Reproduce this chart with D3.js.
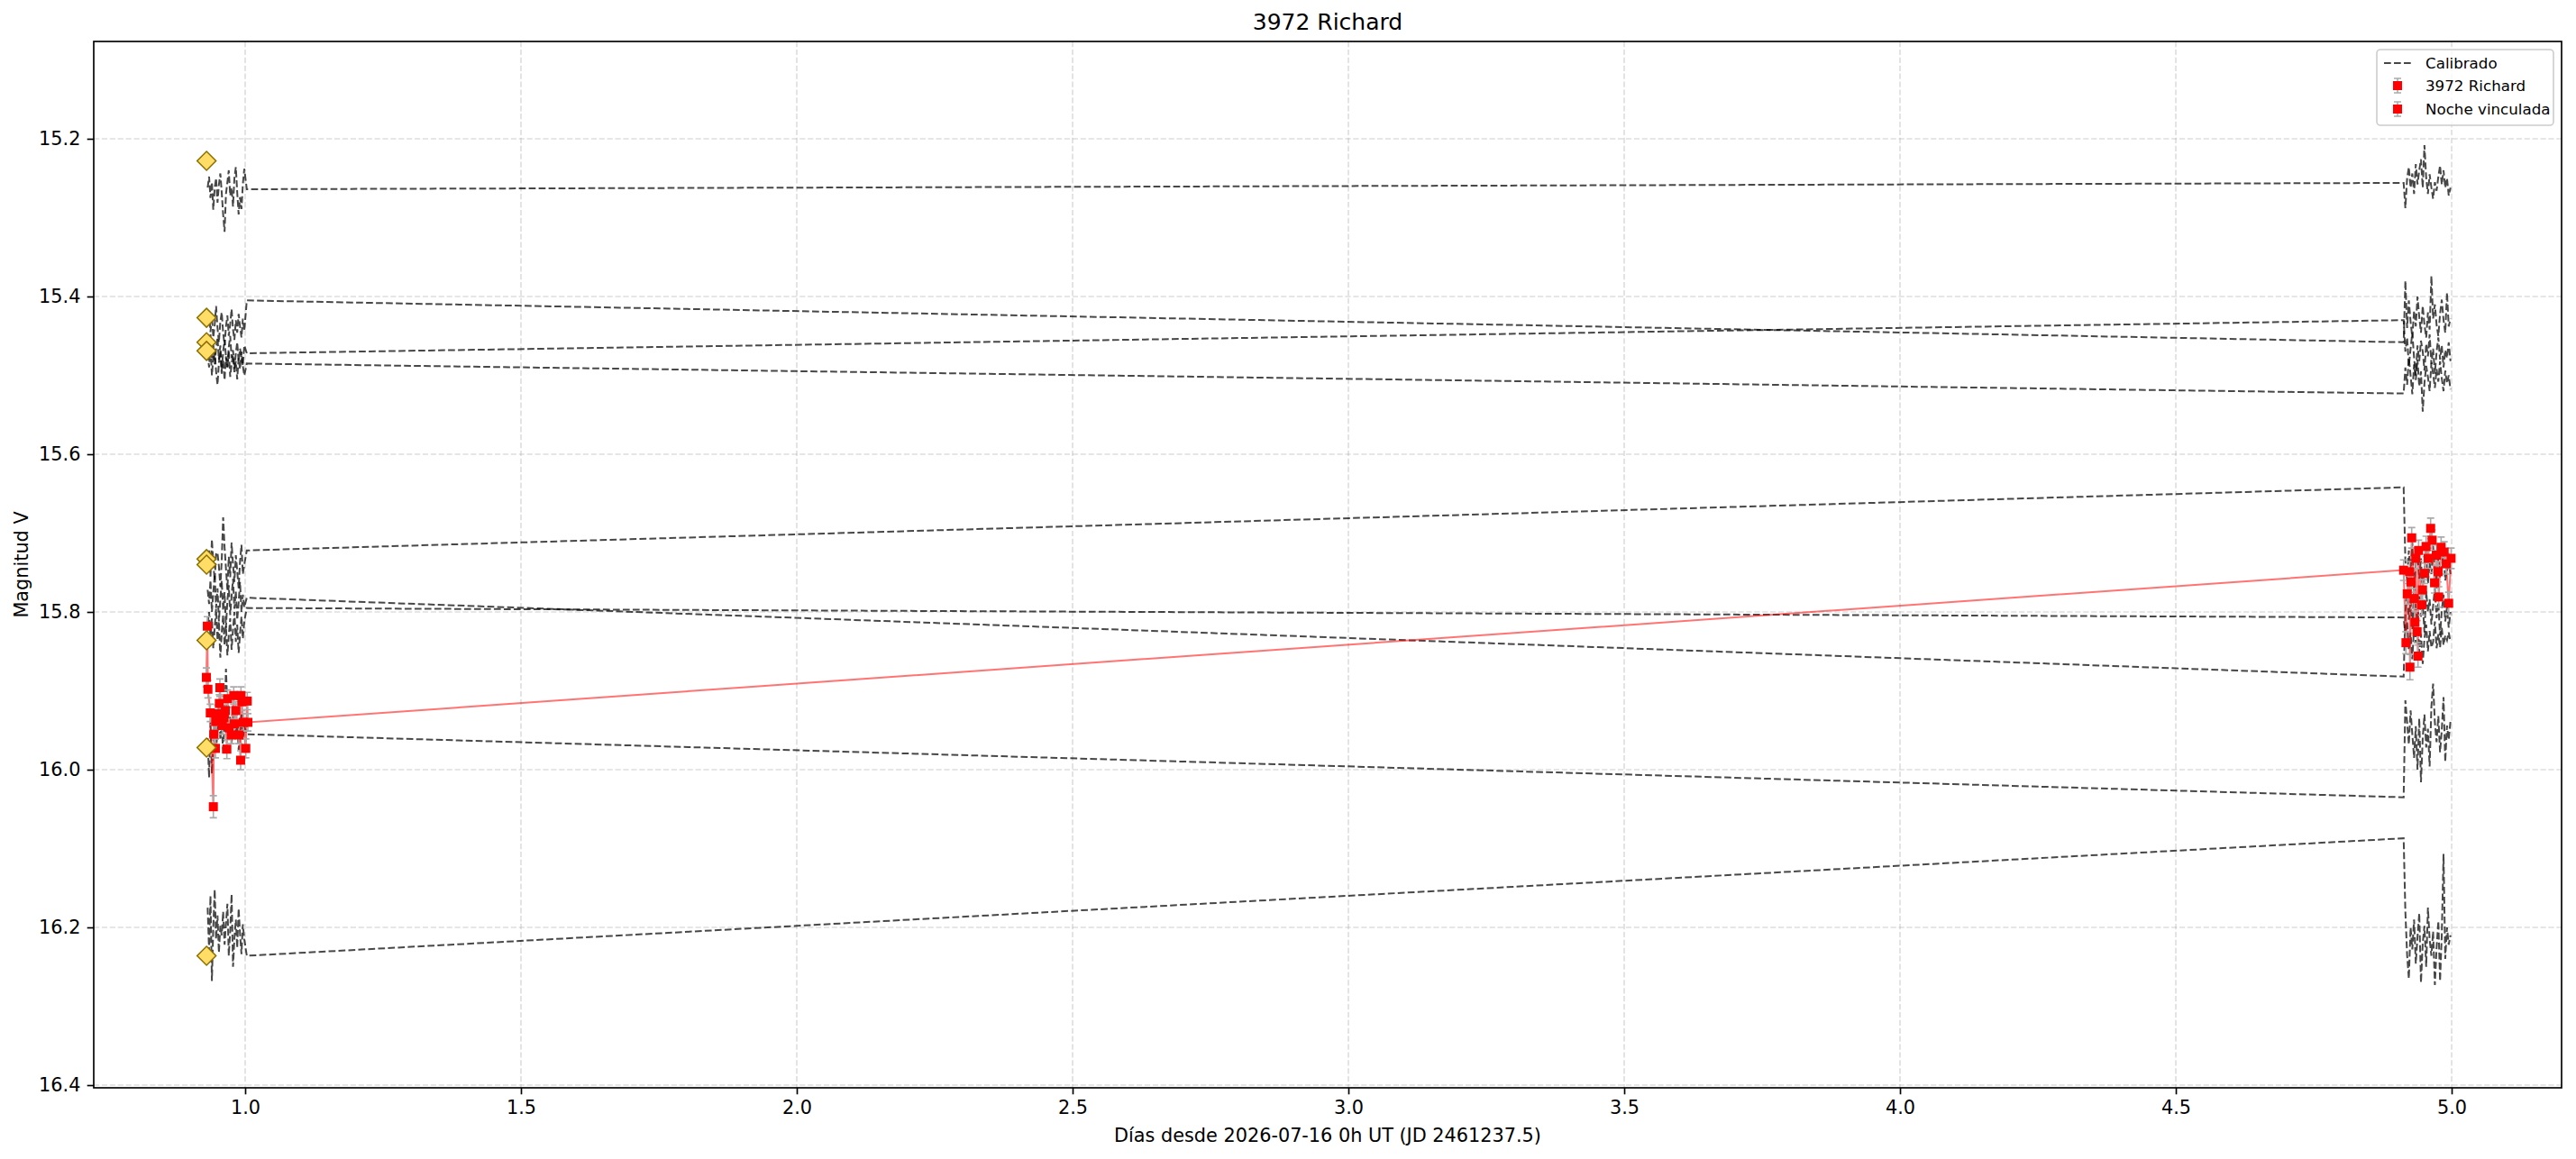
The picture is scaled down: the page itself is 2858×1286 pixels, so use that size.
<!DOCTYPE html>
<html>
<head>
<meta charset="utf-8">
<script src="https://cdn.jsdelivr.net/npm/d3@7"></script>
<style>
  html, body { margin: 0; padding: 0; background: #fff; }
  svg { display: block; font-family: "DejaVu Sans", sans-serif; }
</style>
</head>
<body>
<div id="chart"></div>
<script>
// --- data ---------------------------------------------------------------
const xTicks = [1.0, 1.5, 2.0, 2.5, 3.0, 3.5, 4.0, 4.5, 5.0];
const yTicks = [15.2, 15.4, 15.6, 15.8, 16.0, 16.2, 16.4];

// observation times of the comparison stars (days)
const timesNight1 = [0.9320, 0.9346, 0.9371, 0.9397, 0.9422, 0.9448, 0.9473, 0.9499, 0.9524, 0.9550,
    0.9575, 0.9601, 0.9627, 0.9652, 0.9678, 0.9703, 0.9729, 0.9754, 0.9780, 0.9805,
    0.9831, 0.9856, 0.9882, 0.9907, 0.9933, 0.9958, 0.9984, 1.0030];
const timesNight2 = [4.9130, 4.9161, 4.9193, 4.9224, 4.9256, 4.9287, 4.9319, 4.9350, 4.9381, 4.9413,
    4.9444, 4.9476, 4.9507, 4.9539, 4.9570, 4.9601, 4.9633, 4.9664, 4.9696, 4.9727,
    4.9759, 4.9790, 4.9821, 4.9853, 4.9884, 4.9916, 4.9947, 4.9979];

// calibrated comparison stars, night 1
const compNight1 = [
    [15.262, 15.248, 15.275, 15.255, 15.290, 15.262, 15.250, 15.281, 15.258, 15.244, 15.268, 15.296, 15.318, 15.270, 15.255, 15.240, 15.272, 15.262, 15.286, 15.250, 15.236, 15.268, 15.296, 15.274, 15.289, 15.258, 15.238, 15.264],
    [15.430, 15.418, 15.445, 15.425, 15.452, 15.436, 15.412, 15.440, 15.458, 15.432, 15.420, 15.446, 15.462, 15.438, 15.424, 15.450, 15.435, 15.416, 15.442, 15.455, 15.430, 15.446, 15.422, 15.438, 15.452, 15.428, 15.444, 15.405],
    [15.452, 15.470, 15.448, 15.478, 15.460, 15.486, 15.466, 15.452, 15.480, 15.462, 15.494, 15.470, 15.455, 15.476, 15.490, 15.464, 15.450, 15.478, 15.468, 15.492, 15.472, 15.458, 15.482, 15.466, 15.476, 15.488, 15.462, 15.472],
    [15.472, 15.490, 15.462, 15.500, 15.478, 15.468, 15.495, 15.512, 15.484, 15.470, 15.498, 15.480, 15.506, 15.476, 15.490, 15.470, 15.502, 15.486, 15.474, 15.496, 15.482, 15.505, 15.478, 15.492, 15.470, 15.488, 15.500, 15.485],
    [15.740, 15.722, 15.755, 15.708, 15.738, 15.760, 15.725, 15.725, 15.742, 15.768, 15.735, 15.680, 15.718, 15.745, 15.772, 15.730, 15.756, 15.712, 15.740, 15.762, 15.728, 15.748, 15.770, 15.736, 15.715, 15.752, 15.740, 15.722],
    [15.772, 15.790, 15.760, 15.800, 15.776, 15.752, 15.795, 15.770, 15.812, 15.784, 15.760, 15.798, 15.775, 15.820, 15.786, 15.766, 15.804, 15.780, 15.758, 15.796, 15.774, 15.810, 15.788, 15.762, 15.800, 15.778, 15.794, 15.782],
    [15.815, 15.800, 15.832, 15.808, 15.846, 15.820, 15.796, 15.836, 15.812, 15.858, 15.826, 15.804, 15.842, 15.818, 15.855, 15.830, 15.808, 15.848, 15.822, 15.800, 15.838, 15.816, 15.852, 15.828, 15.806, 15.834, 15.812, 15.795],
    [15.960, 16.010, 15.940, 16.005, 15.965, 15.930, 15.975, 15.950, 15.915, 15.962, 15.940, 15.980, 15.935, 15.872, 15.920, 15.955, 15.932, 15.968, 15.945, 15.925, 15.958, 15.938, 15.975, 15.950, 15.928, 15.962, 15.945, 15.955],
    [16.175, 16.230, 16.160, 16.268, 16.200, 16.152, 16.215, 16.185, 16.232, 16.198, 16.210, 16.180, 16.222, 16.195, 16.170, 16.236, 16.205, 16.158, 16.250, 16.214, 16.190, 16.226, 16.176, 16.208, 16.234, 16.196, 16.215, 16.236]
];

// calibrated comparison stars, night 2
const compNight2 = [
    [15.256, 15.288, 15.250, 15.236, 15.262, 15.244, 15.270, 15.232, 15.258, 15.240, 15.226, 15.262, 15.208, 15.250, 15.270, 15.245, 15.262, 15.276, 15.255, 15.266, 15.248, 15.234, 15.258, 15.240, 15.262, 15.250, 15.272, 15.262],
    [15.458, 15.380, 15.440, 15.405, 15.432, 15.452, 15.418, 15.438, 15.400, 15.426, 15.446, 15.412, 15.436, 15.452, 15.420, 15.442, 15.374, 15.428, 15.410, 15.436, 15.450, 15.422, 15.404, 15.430, 15.446, 15.395, 15.438, 15.428],
    [15.430, 15.470, 15.452, 15.488, 15.466, 15.446, 15.478, 15.500, 15.462, 15.482, 15.456, 15.470, 15.494, 15.460, 15.476, 15.448, 15.486, 15.466, 15.498, 15.470, 15.452, 15.480, 15.462, 15.490, 15.468, 15.478, 15.458, 15.482],
    [15.523, 15.490, 15.512, 15.478, 15.500, 15.524, 15.486, 15.506, 15.480, 15.514, 15.495, 15.546, 15.510, 15.488, 15.502, 15.520, 15.484, 15.498, 15.516, 15.492, 15.508, 15.482, 15.504, 15.520, 15.494, 15.510, 15.500, 15.518],
    [15.642, 15.735, 15.760, 15.722, 15.748, 15.712, 15.770, 15.740, 15.726, 15.758, 15.732, 15.778, 15.746, 15.720, 15.764, 15.738, 15.752, 15.716, 15.744, 15.770, 15.730, 15.756, 15.742, 15.724, 15.760, 15.748, 15.734, 15.752],
    [15.882, 15.800, 15.772, 15.810, 15.786, 15.822, 15.768, 15.796, 15.818, 15.780, 15.806, 15.790, 15.826, 15.774, 15.800, 15.784, 15.816, 15.792, 15.770, 15.808, 15.788, 15.830, 15.798, 15.778, 15.812, 15.794, 15.820, 15.800],
    [15.807, 15.830, 15.812, 15.848, 15.826, 15.860, 15.818, 15.840, 15.808, 15.852, 15.828, 15.866, 15.834, 15.816, 15.850, 15.824, 15.845, 15.838, 15.812, 15.846, 15.828, 15.845, 15.820, 15.842, 15.830, 15.836, 15.826, 15.838],
    [16.035, 15.912, 15.940, 15.968, 15.925, 15.955, 15.985, 15.945, 16.000, 15.935, 16.016, 15.960, 15.930, 15.972, 15.948, 15.996, 15.920, 15.891, 15.940, 15.965, 15.932, 15.978, 15.950, 15.908, 15.990, 15.944, 15.962, 15.938],
    [16.087, 16.180, 16.235, 16.265, 16.200, 16.228, 16.190, 16.246, 16.212, 16.182, 16.270, 16.220, 16.198, 16.250, 16.175, 16.215, 16.236, 16.205, 16.273, 16.226, 16.192, 16.268, 16.210, 16.107, 16.240, 16.200, 16.222, 16.210]
];

// reference (catalogue) magnitudes of the comparison stars
const refTime = 0.930;
const refMags = [15.228, 15.427, 15.458, 15.469, 15.733, 15.740, 15.836, 15.972, 16.236];

// 3972 Richard, night 1
const targetTimes1 = [0.9297, 0.9314, 0.9325, 0.9368, 0.9423, 0.9434, 0.9461, 0.9466, 0.9505, 0.9532,
    0.9542, 0.9586, 0.9613, 0.9641, 0.9668, 0.9680, 0.9706, 0.9749, 0.9793, 0.9804,
    0.9831, 0.9886, 0.9918, 0.9924, 0.9940, 0.9967, 1.0011, 1.0038, 1.0049];
const targetMags1 = [15.883, 15.818, 15.898, 15.928, 16.047, 15.955, 15.973, 15.939, 15.929, 15.916,
    15.896, 15.944, 15.934, 15.925, 15.974, 15.910, 15.947, 15.956, 15.906, 15.942,
    15.925, 15.956, 15.988, 15.906, 15.914, 15.940, 15.973, 15.913, 15.940];
const targetErrs1 = [0.012, 0.012, 0.011, 0.011, 0.014, 0.012, 0.012, 0.011, 0.011, 0.011,
    0.011, 0.011, 0.011, 0.011, 0.012, 0.011, 0.011, 0.011, 0.011, 0.011,
    0.011, 0.011, 0.012, 0.011, 0.011, 0.011, 0.012, 0.011, 0.011];

// Noche vinculada (night 2)
const targetTimes2 = [4.9129, 4.9172, 4.9195, 4.9237, 4.9244, 4.9263, 4.9276, 4.9319, 4.9335, 4.9352,
    4.9374, 4.9390, 4.9401, 4.9456, 4.9472, 4.9510, 4.9537, 4.9574, 4.9619, 4.9646,
    4.9690, 4.9728, 4.9755, 4.9766, 4.9809, 4.9864, 4.9902, 4.9946, 4.9990];
const targetMags2 = [15.747, 15.839, 15.777, 15.749, 15.870, 15.762, 15.706, 15.783, 15.813, 15.732,
    15.825, 15.856, 15.722, 15.791, 15.772, 15.751, 15.717, 15.732, 15.694, 15.709,
    15.763, 15.728, 15.749, 15.781, 15.718, 15.724, 15.739, 15.789, 15.732];
const targetErrs2 = [0.013, 0.014, 0.013, 0.013, 0.016, 0.013, 0.013, 0.013, 0.014, 0.013,
    0.014, 0.014, 0.013, 0.013, 0.013, 0.013, 0.013, 0.013, 0.013, 0.013,
    0.013, 0.013, 0.013, 0.013, 0.013, 0.013, 0.013, 0.014, 0.013];

const legendLabels = ["Calibrado", "3972 Richard", "Noche vinculada"];

// --- chart --------------------------------------------------------------
const chartRenderer = (() => {
    const W = 2858, H = 1286;
    const plot = { left: 104, right: 2842, top: 46, bottom: 1207 };
    const LW = 1.67;

    function _createSvg(targetId) {
        return d3.select(`#${targetId}`).append("svg")
            .attr("width", W).attr("height", H)
            .attr("viewBox", `0 0 ${W} ${H}`);
    }

    function _errorBars(g, times, mags, errs, x, y) {
        const pts = times.map((t, i) => ({ t, m: mags[i], e: errs[i] }));
        const eb = g.append("g").attr("stroke", "#aaaaaa").attr("stroke-width", 1.6).attr("fill", "none");
        eb.selectAll("path").data(pts).enter().append("path")
            .attr("d", d => {
                const cx = x(d.t), y0 = y(d.m - d.e), y1 = y(d.m + d.e);
                return `M${cx},${y0}V${y1}M${cx - 4},${y0}H${cx + 4}M${cx - 4},${y1}H${cx + 4}`;
            });
        return pts;
    }

    function render(targetId) {
        const svg = _createSvg(targetId);
        svg.append("rect").attr("width", W).attr("height", H).attr("fill", "#fff");

        const x = d3.scaleLinear().domain([0.7255, 5.1993]).range([plot.left, plot.right]);
        const y = d3.scaleLinear().domain([15.0766, 16.4034]).range([plot.top, plot.bottom]);

        const clip = svg.append("clipPath").attr("id", "plotclip").append("rect")
            .attr("x", plot.left).attr("y", plot.top)
            .attr("width", plot.right - plot.left).attr("height", plot.bottom - plot.top);

        // grid
        const grid = svg.append("g").attr("stroke", "#b0b0b0").attr("stroke-opacity", 0.42)
            .attr("stroke-width", LW).attr("stroke-dasharray", "6.2,2.7");
        grid.selectAll(".gx").data(xTicks).enter().append("line")
            .attr("x1", d => x(d)).attr("x2", d => x(d)).attr("y1", plot.top).attr("y2", plot.bottom);
        grid.selectAll(".gy").data(yTicks).enter().append("line")
            .attr("y1", d => y(d)).attr("y2", d => y(d)).attr("x1", plot.left).attr("x2", plot.right);

        const area = svg.append("g").attr("clip-path", "url(#plotclip)");

        // calibrated comparison stars
        const line = d3.line().x(d => x(d[0])).y(d => y(d[1]));
        const stars = compNight1.map((n1, i) =>
            timesNight1.map((t, j) => [t, n1[j]]).concat(timesNight2.map((t, j) => [t, compNight2[i][j]])));
        area.selectAll(".comp").data(stars).enter().append("path")
            .attr("fill", "none").attr("stroke", "#000").attr("stroke-opacity", 0.72)
            .attr("stroke-width", 2).attr("stroke-dasharray", "7.7,3.3")
            .attr("d", line);

        // target light curve connecting line
        const target = targetTimes1.map((t, i) => [t, targetMags1[i]])
            .concat(targetTimes2.map((t, i) => [t, targetMags2[i]]));
        area.append("path").datum(target)
            .attr("fill", "none").attr("stroke", "#ff0000").attr("stroke-opacity", 0.55)
            .attr("stroke-width", 2).attr("d", line);

        // error bars + squares
        const p1 = _errorBars(area, targetTimes1, targetMags1, targetErrs1, x, y);
        const p2 = _errorBars(area, targetTimes2, targetMags2, targetErrs2, x, y);
        area.selectAll(".sq").data(p1.concat(p2)).enter().append("rect")
            .attr("x", d => x(d.t) - 5).attr("y", d => y(d.m) - 5)
            .attr("width", 10).attr("height", 10).attr("fill", "#ff0000");

        // reference diamonds
        const diamond = d3.symbol(d3.symbolSquare, 220);
        area.selectAll(".ref").data(refMags).enter().append("path")
            .attr("d", diamond)
            .attr("transform", d => `translate(${x(refTime)},${y(d)}) rotate(45)`)
            .attr("fill", "#ffdd66").attr("stroke", "#8b7000").attr("stroke-width", 1.5);

        // axes
        const xAxis = svg.append("g").attr("transform", `translate(0,${plot.bottom})`)
            .call(d3.axisBottom(x).tickValues(xTicks).tickSize(7.3).tickPadding(7.3).tickFormat(d3.format(".1f")));
        const yAxis = svg.append("g").attr("transform", `translate(${plot.left},0)`)
            .call(d3.axisLeft(y).tickValues(yTicks).tickSize(7.3).tickPadding(7.3).tickFormat(d3.format(".1f")));
        [xAxis, yAxis].forEach(a => {
            a.select(".domain").remove();
            a.selectAll(".tick line").attr("stroke", "#000").attr("stroke-width", LW);
            a.selectAll(".tick text").attr("fill", "#000").style("font-size", "20.8px")
                .style("font-family", "'DejaVu Sans', sans-serif");
        });

        svg.append("rect").attr("x", plot.left).attr("y", plot.top)
            .attr("width", plot.right - plot.left).attr("height", plot.bottom - plot.top)
            .attr("fill", "none").attr("stroke", "#000").attr("stroke-width", LW);

        // labels
        const cx = (plot.left + plot.right) / 2;
        svg.append("text").attr("x", cx).attr("y", 33).attr("text-anchor", "middle")
            .style("font-size", "25px").text("3972 Richard");
        svg.append("text").attr("x", cx).attr("y", 1267).attr("text-anchor", "middle")
            .style("font-size", "20.8px").text("Días desde 2026-07-16 0h UT (JD 2461237.5)");
        svg.append("text").attr("text-anchor", "middle")
            .attr("transform", `translate(31,${(plot.top + plot.bottom) / 2}) rotate(-90)`)
            .style("font-size", "20.8px").text("Magnitud V");

        // legend
        const lg = svg.append("g");
        lg.append("rect").attr("x", 2637).attr("y", 55).attr("width", 196).attr("height", 84)
            .attr("rx", 4).attr("fill", "#fff").attr("fill-opacity", 0.8)
            .attr("stroke", "#cccccc").attr("stroke-width", 1.6);
        const rows = [70, 95, 121];
        lg.append("line").attr("x1", 2645).attr("x2", 2675).attr("y1", rows[0]).attr("y2", rows[0])
            .attr("stroke", "#000").attr("stroke-opacity", 0.72).attr("stroke-width", 2)
            .attr("stroke-dasharray", "7.7,3.3");
        rows.slice(1).forEach(ry => {
            lg.append("path").attr("d", `M2660,${ry - 8}V${ry + 8}M2656,${ry - 8}H2664M2656,${ry + 8}H2664`)
                .attr("stroke", "#aaaaaa").attr("stroke-width", 1.6).attr("fill", "none");
            lg.append("rect").attr("x", 2655).attr("y", ry - 5).attr("width", 10).attr("height", 10)
                .attr("fill", "#ff0000");
        });
        lg.selectAll(".lt").data(legendLabels).enter().append("text")
            .attr("x", 2691).attr("y", (d, i) => rows[i] + 6)
            .style("font-size", "16.7px").text(d => d);
    }

    return Object.freeze({ render });
})();

chartRenderer.render("chart");
</script>
</body>
</html>
